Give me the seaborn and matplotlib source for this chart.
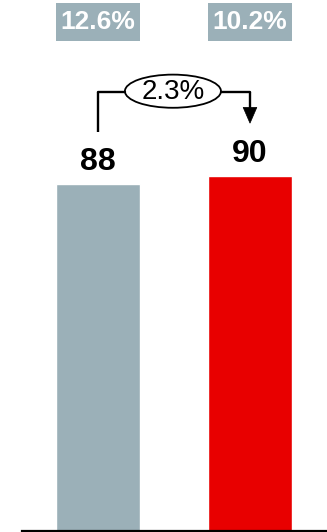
import matplotlib
matplotlib.use("Agg")
import matplotlib.pyplot as plt
from matplotlib.patches import Ellipse, Polygon, Rectangle
import matplotlib.transforms as mtransforms
import seaborn as sns
import pandas as pd

# Data
periods = ["Prior", "Current"]
values = [88, 90]
margins = ["12.6%", "10.2%"]
bar_colors = ["#9BB0B8", "#E80000"]

growth = (values[1] - values[0]) / values[0] * 100

sns.set_theme(style="white")
plt.rcParams["font.family"] = ["Liberation Sans", "DejaVu Sans"]

df = pd.DataFrame({"period": periods, "value": values})

fig = plt.figure(figsize=(3.27, 5.32), dpi=100)
ax = fig.add_axes([22 / 327, 1 / 532, 304 / 327, 531 / 532])

sns.barplot(data=df, x="period", y="value", hue="period", palette=bar_colors,
            width=0.553, legend=False, ax=ax, saturation=1)

ax.set_xlim(-0.5, 1.5)
ax.set_ylim(0, 134.5)
ax.set_xlabel("")
ax.set_ylabel("")
ax.set_xticks([])
ax.set_yticks([])
for side in ["left", "right", "top"]:
    ax.spines[side].set_visible(False)
ax.spines["bottom"].set_color("black")
ax.spines["bottom"].set_linewidth(1.6)

# Value labels above bars
for i, v in enumerate(values):
    ax.annotate(f"{v}", xy=(i, v), xytext=(0, 9.5), textcoords="offset points",
                ha="center", va="baseline", fontsize=23, fontweight="bold",
                color="black")

# Margin boxes at the top
blend = mtransforms.blended_transform_factory(ax.transData, ax.transAxes)
box_w = 0.553
for i, m in enumerate(margins):
    ax.add_patch(Rectangle((i - box_w / 2, 0.923), box_w, 0.071, transform=blend,
                           facecolor=bar_colors[0], edgecolor="none", clip_on=False))
    ax.text(i, 0.9585, m, transform=blend, ha="center", va="center",
            fontsize=19, fontweight="bold", color="white")

# Growth connector
y_line = 111.1
ax.plot([0, 0], [101.0, y_line], color="black", lw=1.7, solid_capstyle="butt")
ax.plot([0, 0.177], [y_line, y_line], color="black", lw=1.7)
ax.plot([0.809, 1], [y_line, y_line], color="black", lw=1.7)
ax.plot([1, 1], [y_line, 106.5], color="black", lw=1.7, solid_capstyle="butt")
ax.add_patch(Polygon([[1 - 0.045, 107.3], [1 + 0.045, 107.3], [1, 103.3]],
                     closed=True, facecolor="black", edgecolor="black", lw=0.5))
ax.add_patch(Ellipse((0.493, 111.4), 0.632, 8.4, facecolor="white",
                     edgecolor="black", lw=1.3))
ax.text(0.493, 111.3, f"{growth:.1f}%", ha="center", va="center",
        fontsize=20, color="black")

fig.savefig("out.png", dpi=100)
